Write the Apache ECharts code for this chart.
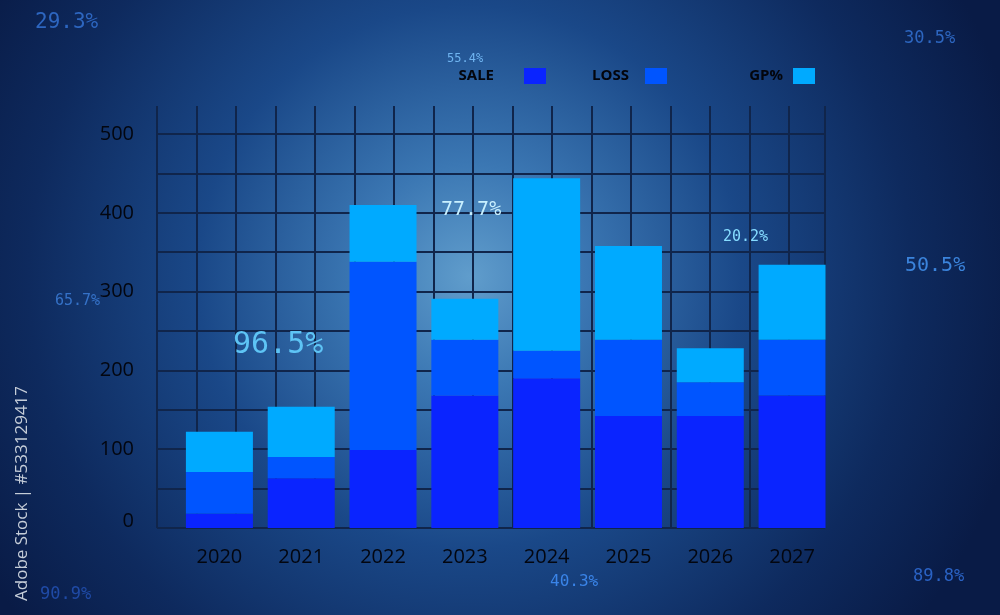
<!DOCTYPE html>
<html>
<head>
<meta charset="utf-8">
<script src="https://cdn.jsdelivr.net/npm/echarts@6/dist/echarts.min.js"></script>
<style>
html,body{margin:0;padding:0;background:#0a1a45;}
#chart{width:1000px;height:615px;}
</style>
</head>
<body>
<div id="chart"></div>
<script>
// ---- data ----
const years = ['2020','2021','2022','2023','2024','2025','2026','2027'];
const sale  = [18, 63, 99, 168, 190, 142, 142, 168];
const loss  = [53, 27, 239, 71, 35, 97, 43, 71];
const gp    = [51, 64, 72, 52, 219, 119, 43, 95];
const seriesNames = ['SALE', 'LOSS', 'GP%'];
const yTicks = [0, 100, 200, 300, 400, 500];
const floatTexts = ['29.3%', '30.5%', '55.4%', '77.7%', '96.5%', '20.2%', '65.7%', '50.5%', '40.3%', '89.8%', '90.9%'];
const stockText = 'Adobe Stock | #533129417';

// ---- styling / layout ----
const colors = ['#0a24ff', '#0055ff', '#00aaff'];
const floatStyle = [
  {x: 35,  y: 25,  size: 21, color: '#2d66c0'},
  {x: 904, y: 40,  size: 17, color: '#2d66c0'},
  {x: 447, y: 60,  size: 12, color: '#6fb4f0'},
  {x: 441, y: 212, size: 20, color: '#c8f0ff'},
  {x: 233, y: 348, size: 30, color: '#5ec4f5'},
  {x: 723, y: 239, size: 15, color: '#86dcff'},
  {x: 55,  y: 303, size: 15, color: '#3572c8'},
  {x: 905, y: 268, size: 20, color: '#3b84dc'},
  {x: 550, y: 583, size: 16, color: '#3a84e8'},
  {x: 913, y: 578, size: 17, color: '#2a62c4'},
  {x: 40,  y: 596, size: 17, color: '#1f4aa6'}
];

const chart = echarts.init(document.getElementById('chart'), null, {renderer: 'canvas'});

const lineColor = '#10254b';
const legendPos = [
  {right: 454, gap: 25},
  {right: 333, gap: 11},
  {right: 185, gap: 5}
];

const option = {
  animation: false,
  backgroundColor: {
    type: 'radial', x: 0.47, y: 0.45, r: 0.92,
    colorStops: [
      {offset: 0, color: '#609dcc'},
      {offset: 0.2, color: '#3b77b3'},
      {offset: 0.48, color: '#1a4888'},
      {offset: 0.78, color: '#0e2a5e'},
      {offset: 1, color: '#091b46'}
    ]
  },
  legend: seriesNames.map((n, i) => ({
    data: [n],
    right: legendPos[i].right,
    top: 68,
    padding: 0,
    align: 'right',
    orient: 'horizontal',
    itemWidth: 22,
    itemHeight: 16,
    icon: 'rect',
    selectedMode: false,
    textStyle: {
      fontFamily: 'Open Sans', fontWeight: 'bold', fontSize: 15, color: '#03050c',
      padding: [0, legendPos[i].gap, 0, 0], lineHeight: 16
    }
  })),
  grid: [
    {left: 178.5, right: 167, top: 134, bottom: 87},
    {left: 157, right: 175, top: 134, bottom: 87},
    {left: 157, right: 175, top: 106, bottom: 87}
  ],
  xAxis: [
    {
      type: 'category', gridIndex: 0, data: years,
      axisLine: {show: false}, axisTick: {show: false},
      axisLabel: {fontFamily: 'Open Sans', fontSize: 20, color: '#03060f', margin: 19}
    },
    {type: 'value', gridIndex: 1, min: 0, max: 1, show: false},
    {
      type: 'value', gridIndex: 2, min: 0, max: 668 / 39.5, interval: 1,
      axisLine: {show: false}, axisTick: {show: false}, axisLabel: {show: false},
      splitLine: {show: true, lineStyle: {color: lineColor, width: 2}}
    }
  ],
  yAxis: [
    {type: 'value', gridIndex: 0, min: 0, max: 500, show: false},
    {
      type: 'value', gridIndex: 1, min: 0, max: 500, interval: 50,
      axisLine: {show: false}, axisTick: {show: false},
      splitLine: {show: true, lineStyle: {color: lineColor, width: 2}},
      axisLabel: {
        fontFamily: 'Open Sans', fontSize: 20, color: '#03060f', margin: 23,
        formatter: v => (yTicks.indexOf(v) >= 0 ? (v === 0 ? '{z|0}' : String(v)) : ''),
        rich: {z: {fontFamily: 'Open Sans', fontSize: 20, color: '#03060f', padding: [0, 0, 14, 0]}}
      }
    },
    {type: 'value', gridIndex: 2, min: 0, max: 1, show: false}
  ],
  series: [sale, loss, gp].map((d, i) => ({
    name: seriesNames[i],
    type: 'bar',
    stack: 'total',
    xAxisIndex: 0,
    yAxisIndex: 0,
    barWidth: 67,
    itemStyle: {color: colors[i]},
    data: d,
    z: 3
  })),
  graphic: floatTexts.map((t, i) => ({
    type: 'text',
    left: floatStyle[i].x,
    top: floatStyle[i].y - floatStyle[i].size * 0.6,
    z: 10,
    style: {
      text: t,
      fontFamily: 'DejaVu Sans Mono',
      fontSize: floatStyle[i].size,
      fill: floatStyle[i].color
    }
  })).concat([{
    type: 'text',
    x: 31, y: 601,
    rotation: Math.PI / 2,
    z: 10,
    style: {
      text: stockText,
      fontFamily: 'Open Sans',
      fontSize: 17,
      fill: '#c5cdd8',
      textAlign: 'left',
      textVerticalAlign: 'bottom'
    }
  }])
};

chart.setOption(option);
</script>
</body>
</html>
